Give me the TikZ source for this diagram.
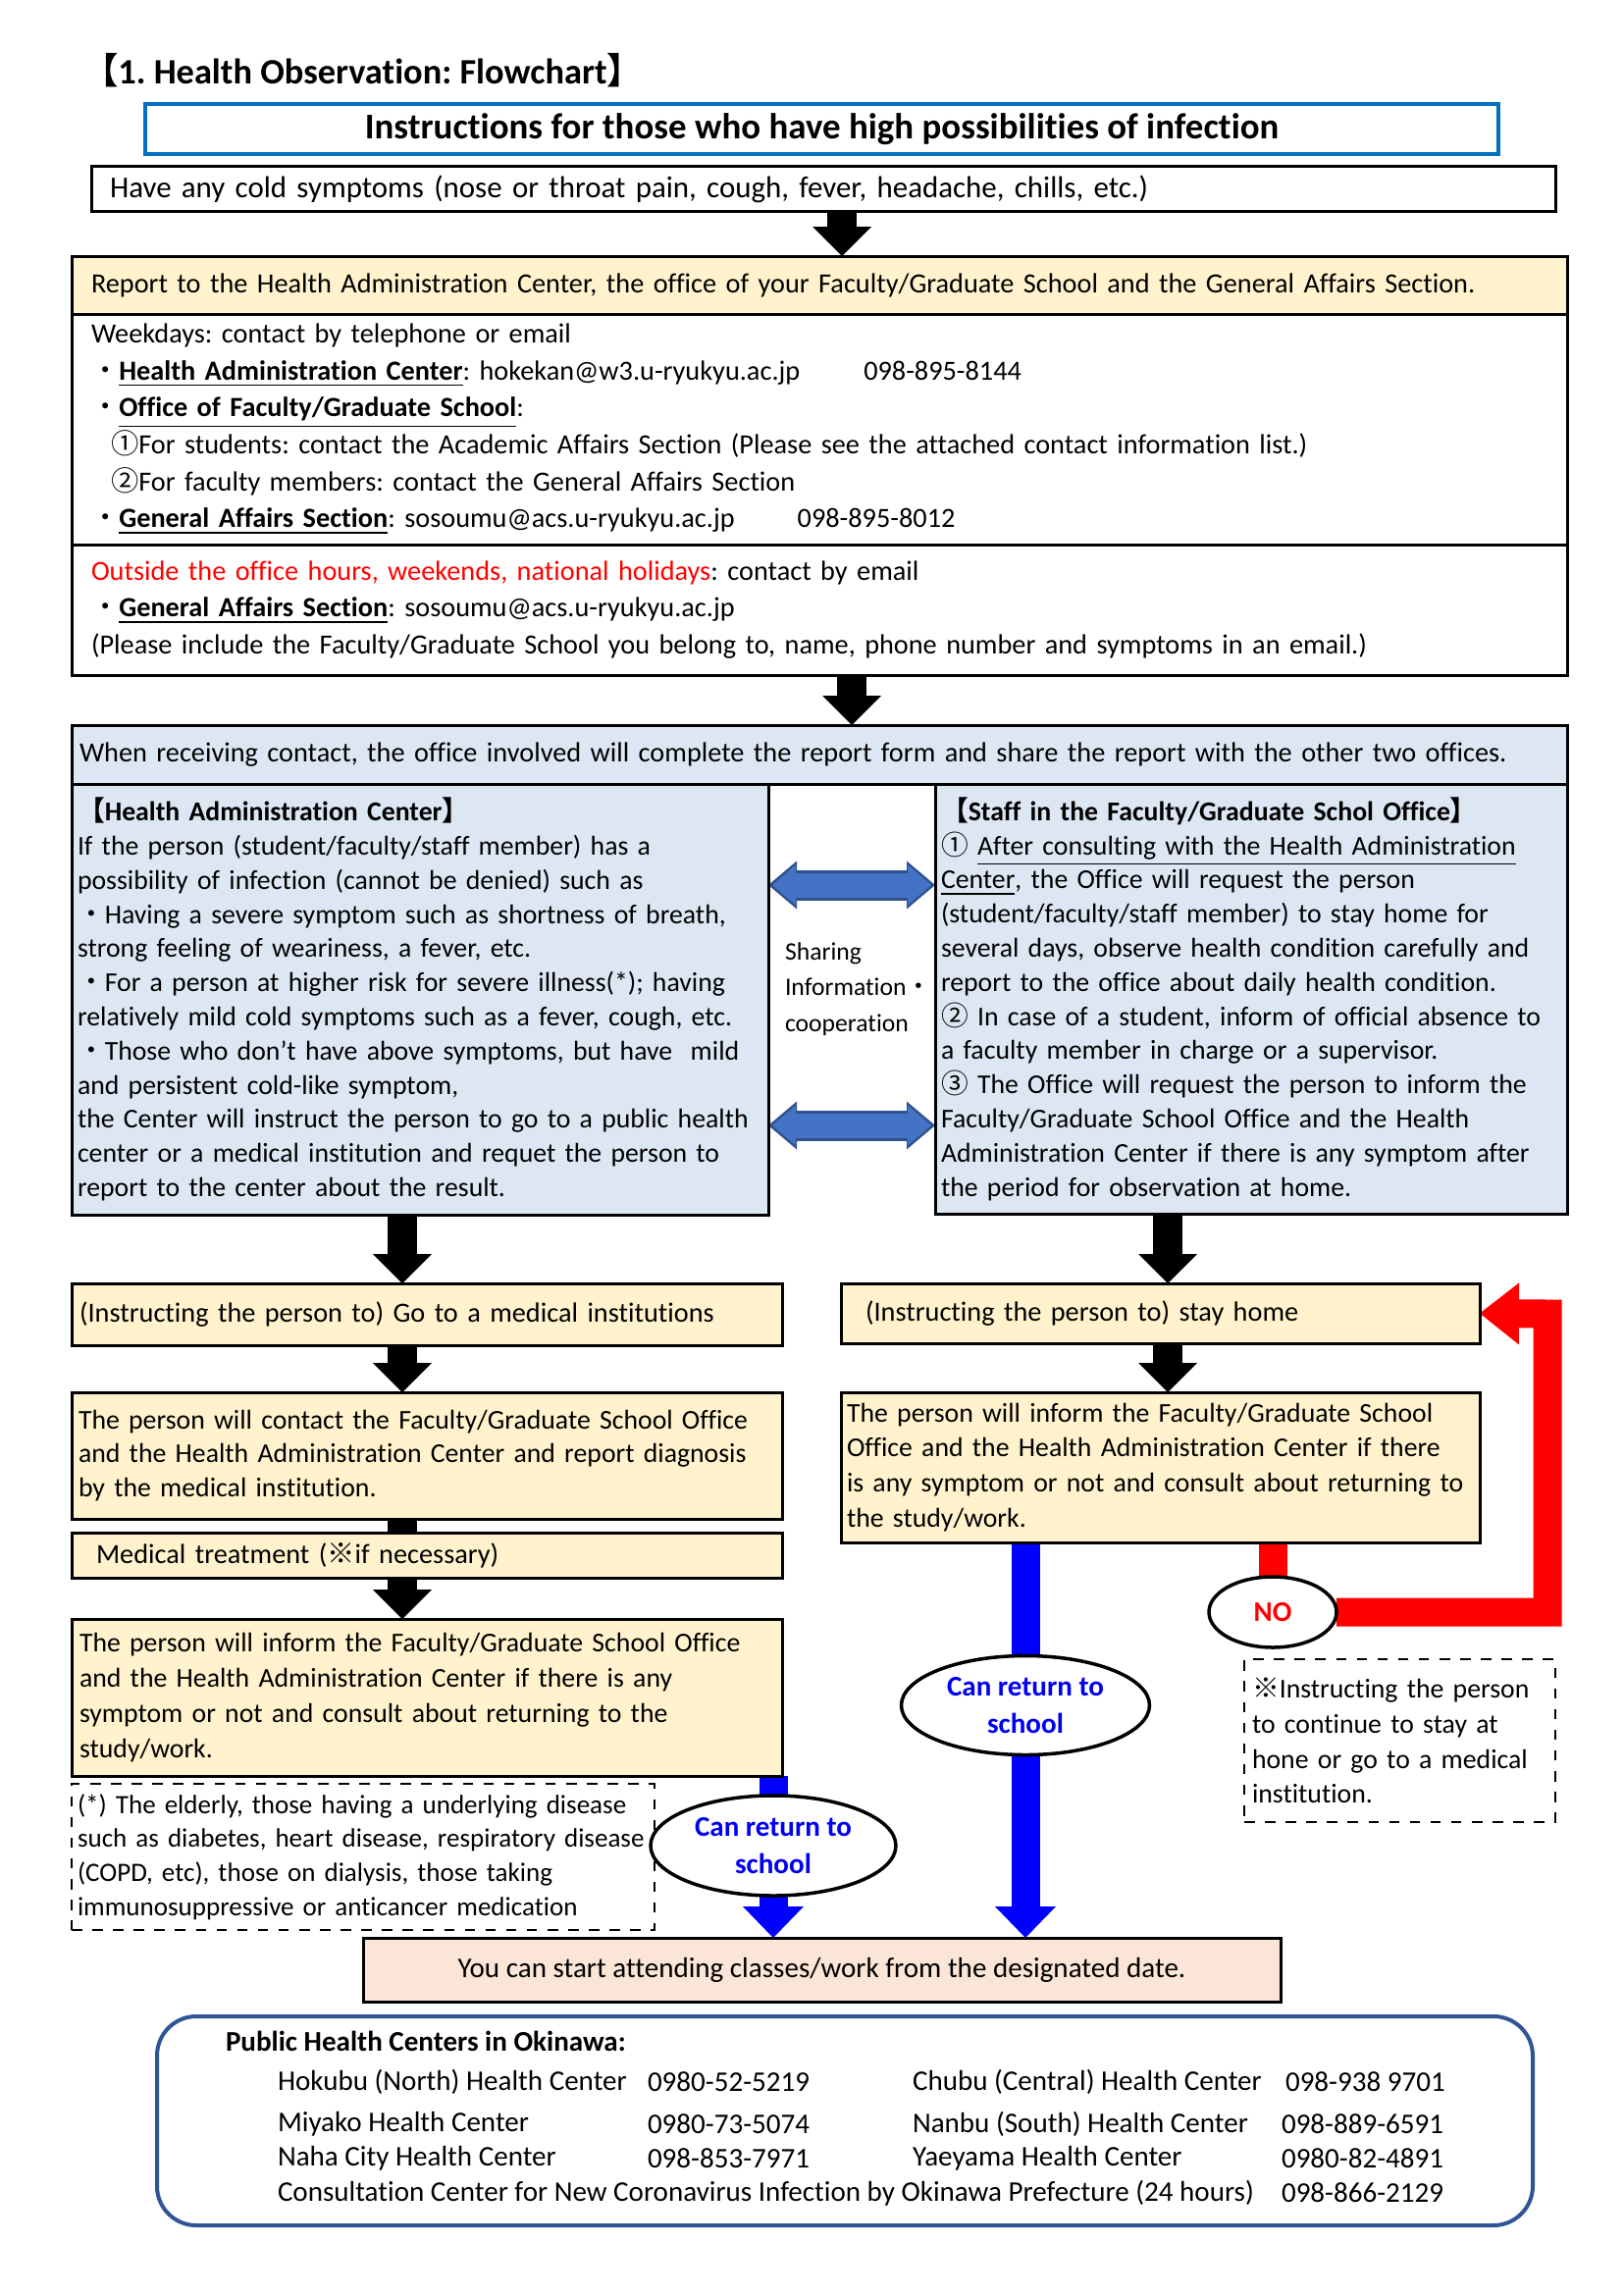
\documentclass[tikz,border=0pt]{standalone}
\usepackage{fontspec}
\setmainfont{Carlito}[Ligatures=CommonOff]
\newfontfamily\cjk{Noto Sans CJK JP}
\usetikzlibrary{positioning,arrows.meta,shapes.geometric}
\definecolor{boxyellow}{RGB}{255,242,204}
\definecolor{boxblue}{RGB}{221,231,244}
\definecolor{boxpeach}{RGB}{251,229,214}
\definecolor{titleblue}{RGB}{0,112,192}
\definecolor{sharefill}{RGB}{68,114,196}
\definecolor{shareedge}{RGB}{47,82,143}
\definecolor{phcblue}{RGB}{47,85,151}
\definecolor{retblue}{RGB}{0,0,240}
\newcommand{\bodyfont}{\fontsize{8.05}{10.7}\selectfont}
\newcommand{\sidefont}{\fontsize{7.9}{9.9}\selectfont}
\newcommand{\stepfont}{\fontsize{7.9}{10.2}\selectfont}
\newcommand{\notefont}{\fontsize{7.7}{9.87}\selectfont}
\newcommand{\phcfont}{\fontsize{8.27}{10.7}\selectfont}
\newcommand{\headfont}{\fontsize{10.5}{12}\selectfont\bfseries}
\newcommand{\dotb}{{\cjk ・}}
\frenchspacing
\hyphenpenalty=10000
\exhyphenpenalty=10000
\pgfdeclarelayer{bg}
\pgfsetlayers{bg,main}

\begin{document}
\begin{tikzpicture}[x=0.1mm, y=-0.1mm,
  every node/.style={inner sep=0pt, outer sep=0pt},
  box/.style={draw, line width=0.3mm, anchor=north west, align=left, font=\bodyfont},
  retcircle/.style={ellipse, draw, line width=0.35mm, fill=white, align=center,
    text=retblue, font=\fontsize{8.27}{10.7}\selectfont\bfseries},
  fatarrow/.style={line width=3mm, -{Triangle[width=6mm,length=3mm,line width=0pt]}},
  fatbar/.style={line width=3mm},
  bluearrow/.style={draw=blue, line width=2.9mm, -{Triangle[width=6.2mm,length=3.2mm,line width=0pt]}},
  redline/.style={draw=red, line width=2.9mm},
  redarrow/.style={draw=red, line width=2.9mm, -{Triangle[width=6.3mm,length=4mm,line width=0pt]}},
  shareouter/.style={draw=shareedge, line width=3.1mm,
    {Triangle[width=4.9mm,length=2.9mm,line width=0pt]}-{Triangle[width=4.9mm,length=2.9mm,line width=0pt]}},
  shareinner/.style={draw=sharefill, line width=2.5mm, shorten >=0.4mm, shorten <=0.4mm,
    {Triangle[width=4.1mm,length=2.4mm,line width=0pt]}-{Triangle[width=4.1mm,length=2.4mm,line width=0pt]}}
]
\useasboundingbox (0,0) rectangle (1654,2339);

% heading
\node[anchor=west, font=\fontsize{10.35}{12}\selectfont\bfseries] (title) at (84,72)
  {{\cjk 【}1. Health Observation: Flowchart{\cjk 】}};
\node[draw=titleblue, line width=0.45mm, anchor=north west, minimum width=137.9mm,
  minimum height=5.1mm, font=\headfont] (instr) at (148,106)
  {Instructions for those who have high possibilities of infection};
\node[box, font=\fontsize{8.8}{10.7}\selectfont, minimum height=4.6mm, inner xsep=1.9mm, text width=145.4mm] (cold) at (93,170)
  {Have any cold symptoms (nose or throat pain, cough, fever, headache, chills, etc.)};

% report and contacts
\node[box, fill=boxyellow, minimum height=5.9mm, inner xsep=2mm, text width=148.4mm] (report) at (73,261)
  {Report to the Health Administration Center, the office of your Faculty/Graduate School and the General Affairs Section.};
\node[box, minimum height=23.5mm, inner xsep=2mm, text width=148.4mm] (weekday) at (73,320)
  {Weekdays: contact by telephone or email\\
   \dotb\textbf{\underline{Health Administration Center}}: hokekan@w3.u-ryukyu.ac.jp\hspace{6.5mm}098-895-8144\\
   \dotb\textbf{\underline{Office of Faculty/Graduate School}}:\\
   \hspace{2mm}{\cjk ①}For students: contact the Academic Affairs Section (Please see the attached contact information list.)\\
   \hspace{2mm}{\cjk ②}For faculty members: contact the General Affairs Section\\
   \dotb\textbf{\underline{General Affairs Section}}: sosoumu@acs.u-ryukyu.ac.jp\hspace{6.4mm}098-895-8012};
\node[box, minimum height=13.3mm, inner xsep=2mm, text width=148.4mm] (offhours) at (73,555)
  {\textcolor{red}{Outside the office hours, weekends, national holidays}: contact by email\\
   \dotb\textbf{\underline{General Affairs Section}}: sosoumu@acs.u-ryukyu.ac.jp\\
   (Please include the Faculty/Graduate School you belong to, name, phone number and symptoms in an email.)};

% sharing
\node[box, fill=boxblue, minimum height=6mm, inner xsep=0.8mm, text width=150.8mm] (share) at (73,739)
  {When receiving contact, the office involved will complete the report form and share the report with the other two offices.};
\node[box, fill=boxblue, font=\sidefont, minimum height=43.9mm, inner xsep=0.6mm, text width=69.8mm] (hac) at (73,799)
  {\textbf{{\cjk 【}Health Administration Center{\cjk 】}}\\
   If the person (student/faculty/staff member) has a\\
   possibility of infection (cannot be denied) such as\\
   \dotb Having a severe symptom such as shortness of breath,\\
   strong feeling of weariness, a fever, etc.\\
   \dotb For a person at higher risk for severe illness(*); having\\
   relatively mild cold symptoms such as a fever, cough, etc.\\
   \dotb Those who don't have above symptoms, but have\ \ mild\\
   and persistent cold-like symptom,\\
   the Center will instruct the person to go to a public health\\
   center or a medical institution and requet the person to\\
   report to the center about the result.};
\node[box, fill=boxblue, font=\sidefont, minimum height=43.8mm, inner xsep=0.6mm, text width=63.2mm] (staff) at (953,799)
  {\textbf{{\cjk 【}Staff in the Faculty/Graduate Schol Office{\cjk 】}}\\
   {\cjk ①} \underline{After consulting with the Health Administration}\\
   \underline{Center}, the Office will request the person\\
   (student/faculty/staff member) to stay home for\\
   several days, observe health condition carefully and\\
   report to the office about daily health condition.\\
   {\cjk ②} In case of a student, inform of official absence to\\
   a faculty member in charge or a supervisor.\\
   {\cjk ③} The Office will request the person to inform the\\
   Faculty/Graduate School Office and the Health\\
   Administration Center if there is any symptom after\\
   the period for observation at home.};
\node[anchor=west, align=left, font=\fontsize{7.3}{10.4}\selectfont] (sharing) at (800,1008)
  {Sharing\\Information{\cjk ・}\\cooperation};

% left column
\node[box, fill=boxyellow, minimum height=6.3mm, inner xsep=0.8mm, text width=70.8mm] (gomed) at (73,1308)
  {(Instructing the person to) Go to a medical institutions};
\node[box, fill=boxyellow, font=\sidefont, minimum height=12.9mm, inner xsep=0.7mm, text width=71mm] (diagnosis) at (73,1419)
  {The person will contact the Faculty/Graduate School Office\\
   and the Health Administration Center and report diagnosis\\
   by the medical institution.};
\node[box, fill=boxyellow, minimum height=4.6mm, inner xsep=2.5mm, text width=67.4mm] (treat) at (73,1562)
  {Medical treatment ({\cjk ※}if necessary)};
\node[box, fill=boxyellow, font=\stepfont, minimum height=16mm, inner xsep=0.8mm, text width=70.8mm] (informmed) at (73,1650)
  {The person will inform the Faculty/Graduate School Office\\
   and the Health Administration Center if there is any\\
   symptom or not and consult about returning to the\\
   study/work.};
\node[box, dashed, line width=0.2mm, font=\notefont, minimum height=14.9mm, inner xsep=0.6mm, text width=58.2mm] (risknote) at (73,1818)
  {(*) The elderly, those having a underlying disease\\
   such as diabetes, heart disease, respiratory disease\\
   (COPD, etc), those on dialysis, those taking\\
   immunosuppressive or anticancer medication};

% right column
\node[box, fill=boxyellow, minimum height=6.1mm, inner xsep=2.5mm, text width=60.1mm] (stayhome) at (857,1308)
  {(Instructing the person to) stay home};
\node[box, fill=boxyellow, font=\stepfont, minimum height=15.3mm, inner xsep=0.6mm, text width=63.9mm] (informhome) at (857,1419)
  {The person will inform the Faculty/Graduate School\\
   Office and the Health Administration Center if there\\
   is any symptom or not and consult about returning to\\
   the study/work.};
\node[box, dashed, line width=0.2mm, font=\stepfont, minimum height=16.6mm, inner xsep=0.8mm, text width=30.1mm] (homenote) at (1268,1691)
  {{\cjk ※}Instructing the person\\
   to continue to stay at\\
   hone or go to a medical\\
   institution.};

% decisions
\node[retcircle, minimum width=25mm, minimum height=10.2mm] (retmed) at (788,1881) {Can return to\\school};
\node[retcircle, minimum width=25.3mm, minimum height=10.1mm] (rethome) at (1045,1738) {Can return to\\school};
\node[ellipse, draw, line width=0.35mm, fill=white, minimum width=13mm, minimum height=7.2mm,
  text=red, font=\phcfont\bfseries] (no) at (1297,1643) {NO};

\node[box, fill=boxpeach, font=\phcfont, minimum width=93.5mm, minimum height=6.5mm, align=center] (start) at (370,1975)
  {You can start attending classes/work from the designated date.};

% public health centers
\node[draw=phcblue, line width=0.4mm, rounded corners=4mm, anchor=north west,
  minimum width=140.2mm, minimum height=21.3mm] (phc) at (160,2055) {};
\node[anchor=west, font=\phcfont\bfseries] (phchead) at (230,2080) {Public Health Centers in Okinawa:};
\node[anchor=west, font=\phcfont] (hokubu) at (283,2122) {Hokubu (North) Health Center};
\node[anchor=west, font=\phcfont] (hokubutel) at (660,2122) {0980-52-5219};
\node[anchor=west, font=\phcfont] (chubu) at (930,2122) {Chubu (Central) Health Center};
\node[anchor=west, font=\phcfont] (chubutel) at (1310,2122) {098-938 9701};
\node[anchor=west, font=\phcfont] (miyako) at (283,2165) {Miyako Health Center};
\node[anchor=west, font=\phcfont] (miyakotel) at (660,2165) {0980-73-5074};
\node[anchor=west, font=\phcfont] (nanbu) at (930,2165) {Nanbu (South) Health Center};
\node[anchor=west, font=\phcfont] (nanbutel) at (1306,2165) {098-889-6591};
\node[anchor=west, font=\phcfont] (naha) at (283,2200) {Naha City Health Center};
\node[anchor=west, font=\phcfont] (nahatel) at (660,2200) {098-853-7971};
\node[anchor=west, font=\phcfont] (yaeyama) at (930,2200) {Yaeyama Health Center};
\node[anchor=west, font=\phcfont] (yaeyamatel) at (1306,2200) {0980-82-4891};
\node[anchor=west, font=\phcfont] (consult) at (283,2235) {Consultation Center for New Coronavirus Infection by Okinawa Prefecture (24 hours)};
\node[anchor=west, font=\phcfont] (consulttel) at (1306,2235) {098-866-2129};

% connectors
\coordinate (colA) at (858,0);
\coordinate (colB) at (868,0);
\coordinate (colL) at (410,0);
\coordinate (colR) at (1190,0);
\coordinate (sh1) at (868,902);
\coordinate (sh2) at (868,1147);
\coordinate (loop) at (1577,1339);
\begin{pgfonlayer}{bg}
\fill[white] (0,0) rectangle (1654,2339);
\draw[fatarrow] (cold.south -| colA) -- (report.north -| colA);
\draw[fatarrow] (offhours.south -| colB) -- (share.north -| colB);
\draw[fatarrow] (hac.south -| colL) -- (gomed.north -| colL);
\draw[fatarrow] (gomed.south -| colL) -- (diagnosis.north -| colL);
\draw[fatbar] (diagnosis.south -| colL) -- (treat.north -| colL);
\draw[fatarrow] (treat.south -| colL) -- (informmed.north -| colL);
\draw[fatarrow] (staff.south -| colR) -- (stayhome.north -| colR);
\draw[fatarrow] (stayhome.south -| colR) -- (informhome.north -| colR);
\draw[shareouter] (hac.east |- sh1) -- (staff.west |- sh1);
\draw[shareinner] (hac.east |- sh1) -- (staff.west |- sh1);
\draw[shareouter] (hac.east |- sh2) -- (staff.west |- sh2);
\draw[shareinner] (hac.east |- sh2) -- (staff.west |- sh2);
\draw[bluearrow] (informmed.south -| retmed) -- (retmed) -- (start.north -| retmed);
\draw[bluearrow] (informhome.south -| rethome) -- (rethome) -- (start.north -| rethome);
\draw[redline] (informhome.south -| no) -- (no);
\draw[redarrow] (no) -| (loop) -- (stayhome.east);
\end{pgfonlayer}
\end{tikzpicture}
\end{document}
